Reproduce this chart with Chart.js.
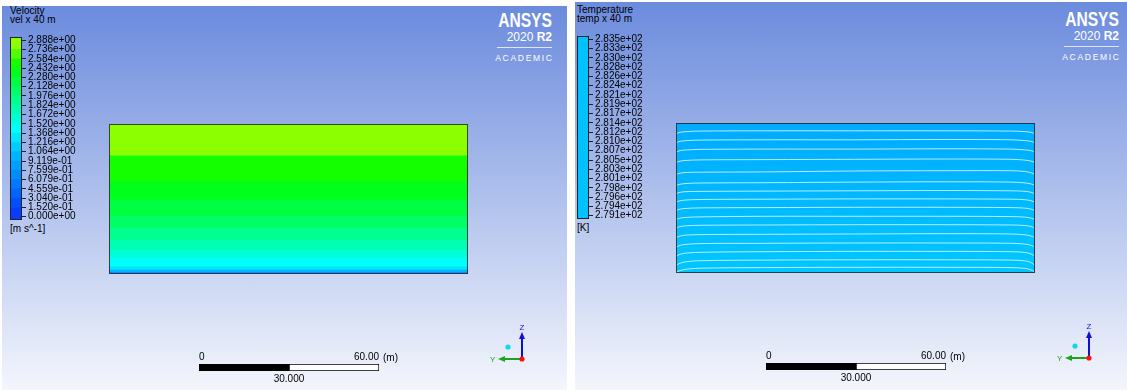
<!DOCTYPE html>
<html>
<head>
<meta charset="utf-8">
<title>Velocity / Temperature</title>
<script src="https://cdn.jsdelivr.net/npm/chart.js@4.4.1/dist/chart.umd.min.js"></script>
<style>
  body { margin: 0; width: 1127px; height: 390px; background: #fff; position: relative; overflow: hidden;
         font-family: "Liberation Sans", Arial, sans-serif; }
  .panel { position: absolute; background: linear-gradient(#6b8bdd, #f4f6fc); }
  .txt { position: absolute; font-size: 10px; line-height: 10px; color: #000; white-space: nowrap; }
  .logo { position: absolute; width: 100px; text-align: right; color: #fff; white-space: nowrap; }
  .logo .big { display: inline-block; font-weight: bold; font-size: 20px; line-height: 20px;
               transform: scaleX(0.78); transform-origin: right center; }
  .logo .ver { font-size: 12px; line-height: 12px; }
  .logo .acad { font-size: 8.5px; line-height: 8px; letter-spacing: 1.7px; margin-right: -1.7px; }
  .logo .rule { position: absolute; height: 1px; background: rgba(255,255,255,0.75); }
  canvas, svg { position: absolute; }
</style>
</head>
<body>
<script>
// contour levels of the legends, bottom to top
const velocityLevels = [0, 0.1520, 0.3040, 0.4559, 0.6079, 0.7599, 0.9119, 1.064, 1.216, 1.368,
                        1.520, 1.672, 1.824, 1.976, 2.128, 2.280, 2.432, 2.584, 2.736, 2.888];
const temperatureLevels = [279.1, 279.4, 279.6, 279.8, 280.1, 280.3, 280.5, 280.7, 281.0, 281.2,
                           281.4, 281.7, 281.9, 282.1, 282.4, 282.6, 282.8, 283.0, 283.3, 283.5];

// velocity plane: top of each band (m above the floor) and its velocity (m/s)
const velocityBandTop = [50, 39.4, 30.7, 24.7, 19.1, 15.3, 11.3, 8.0, 5.3, 2.4, 1.3, 0.5];
const velocityBandValue = [2.81, 2.51, 2.36, 2.20, 2.05, 1.90, 1.75, 1.60, 1.44, 1.29, 0.99, 0.53];

// temperature plane: isolines sampled at these stations along the section (m)
const stationX = [0, 1, 3, 8, 30, 60, 90, 112, 117, 119, 120];
const isolines = [
  [46.3, 46.8, 47.1, 47.3, 47.4, 47.4, 47.4, 47.3, 47.1, 46.8, 46.3],
  [43.3, 43.8, 44.1, 44.3, 44.4, 44.4, 44.5, 44.4, 44.1, 43.8, 43.3],
  [40.2, 40.7, 41.0, 41.2, 41.3, 41.3, 41.4, 41.3, 41.0, 40.7, 40.2],
  [36.8, 37.2, 37.5, 37.7, 37.8, 37.9, 38.0, 37.9, 37.6, 37.2, 36.8],
  [32.8, 33.2, 33.5, 33.6, 33.7, 34.0, 34.1, 34.1, 33.8, 33.3, 32.9],
  [29.1, 29.5, 29.8, 30.0, 30.1, 30.3, 30.4, 30.3, 30.0, 29.6, 29.2],
  [26.4, 26.8, 27.1, 27.2, 27.3, 27.4, 27.5, 27.4, 27.2, 26.8, 26.4],
  [23.6, 24.0, 24.3, 24.5, 24.6, 24.7, 24.7, 24.6, 24.4, 24.0, 23.6],
  [20.8, 21.2, 21.5, 21.7, 21.8, 21.9, 21.9, 21.8, 21.6, 21.2, 20.8],
  [17.8, 18.2, 18.5, 18.7, 18.9, 18.9, 18.9, 18.8, 18.6, 18.2, 17.8],
  [14.9, 15.4, 15.7, 15.9, 16.0, 16.1, 16.1, 16.0, 15.8, 15.4, 14.9],
  [11.7, 12.2, 12.6, 12.8, 12.9, 13.0, 13.1, 13.0, 12.7, 12.2, 11.7],
  [8.5, 9.1, 9.5, 9.8, 9.9, 10.0, 10.0, 9.9, 9.6, 9.1, 8.5],
  [5.5, 6.1, 6.6, 6.9, 7.1, 7.2, 7.2, 7.1, 6.8, 6.2, 5.5],
  [2.4, 3.1, 3.7, 4.1, 4.3, 4.4, 4.4, 4.3, 4.0, 3.3, 2.4],
  [0.3, 0.7, 1.2, 1.6, 1.8, 1.9, 1.9, 1.8, 1.5, 0.9, 0.3]
];

// ruler below each view (m)
const rulerLength = 60;
const rulerMid = 30;

// section size (m)
const sectionWidth = 120;
const sectionHeight = 50;

// colour table, bottom band first
const rainbow = ['#0a3cff', '#0050ff', '#0064ff', '#0078ff', '#008cff', '#00a0ff', '#00b4ff',
                 '#00ccff', '#00e6ff', '#00fffa', '#00ffd9', '#00ffb3', '#00ff8c', '#00ff66',
                 '#00ff40', '#00ff1a', '#14ff00', '#50ff00', '#8cff00'];
const tempColour = '#00c2ff';

const FONT = { family: 'Liberation Sans', size: 10 };
// legend bar runs a little past the first and last level
const BAR_EXT = 0.35;

function sci(v) {
    // 2.888e+0 -> 2.888e+00
    return v.toExponential(3).replace(/e([+-])(\d)$/, 'e$10$2');
}

function colourFor(v) {
    const max = velocityLevels[velocityLevels.length - 1];
    const i = Math.min(rainbow.length - 1, Math.floor(v / max * rainbow.length));
    return rainbow[i];
}

function el(tag, cls, css, html) {
    const e = document.createElement(tag);
    if (cls) e.className = cls;
    Object.assign(e.style, css);
    if (html !== undefined) e.innerHTML = html;
    document.body.appendChild(e);
    return e;
}

function canvasAt(left, top, w, h) {
    const c = el('canvas', null, { left: left + 'px', top: top + 'px' });
    c.width = w;
    c.height = h;
    return c;
}

const frame = color => ({
    id: 'frame',
    afterDatasetsDraw(chart) {
        const { ctx, chartArea: a } = chart;
        ctx.save();
        ctx.strokeStyle = color;
        ctx.lineWidth = 1;
        ctx.strokeRect(a.left + 0.5, a.top + 0.5, a.width - 1, a.height - 1);
        ctx.restore();
    }
});

const noChrome = { legend: { display: false }, tooltip: { enabled: false } };

function drawColorbar(canvas, levels, colours) {
    const n = levels.length - 1;
    const datasets = colours.map((c, i) => ({
        data: [[i === 0 ? -BAR_EXT : i, i === n - 1 ? n + BAR_EXT : i + 1]],
        backgroundColor: c, barPercentage: 1, categoryPercentage: 1, grouped: false
    }));
    new Chart(canvas, {
        type: 'bar',
        data: { labels: [''], datasets },
        options: {
            responsive: false, animation: false,
            layout: { padding: { top: 8, bottom: 8, left: 0, right: 0 } },
            plugins: noChrome,
            scales: {
                x: { display: false },
                y: {
                    position: 'right', min: -BAR_EXT, max: n + BAR_EXT,
                    afterFit: s => { s.width = 62; },
                    afterBuildTicks: s => { s.ticks = levels.map((_, i) => ({ value: i })); },
                    ticks: { autoSkip: false, padding: 2, color: '#000', font: FONT,
                             callback: v => sci(levels[v]) },
                    grid: { drawOnChartArea: false, tickLength: 4, color: '#222' },
                    border: { display: false }
                }
            }
        },
        plugins: [frame('#222')]
    });
}

function drawVelocityField(canvas) {
    // stack from the floor up
    const datasets = [];
    for (let i = velocityBandTop.length - 1; i >= 0; i--) {
        const below = i + 1 < velocityBandTop.length ? velocityBandTop[i + 1] : 0;
        datasets.push({
            data: [velocityBandTop[i] - below],
            backgroundColor: colourFor(velocityBandValue[i]),
            barPercentage: 1, categoryPercentage: 1
        });
    }
    new Chart(canvas, {
        type: 'bar',
        data: { labels: [''], datasets },
        options: {
            responsive: false, animation: false, layout: { padding: 0 },
            plugins: noChrome,
            scales: {
                x: { display: false, stacked: true },
                y: { display: false, stacked: true, min: 0, max: sectionHeight }
            }
        },
        plugins: [frame('rgba(40,40,40,0.85)')]
    });
}

const tempFill = {
    id: 'tempFill',
    beforeDatasetsDraw(chart) {
        const { ctx, chartArea: a } = chart;
        const g = ctx.createLinearGradient(0, a.top, 0, a.bottom);
        g.addColorStop(0, '#00abff');
        g.addColorStop(1, '#00c6ff');
        ctx.save();
        ctx.fillStyle = g;
        ctx.fillRect(a.left, a.top, a.width, a.height);
        ctx.restore();
    }
};

function drawTemperatureField(canvas) {
    const datasets = isolines.map(line => ({
        data: stationX.map((x, i) => ({ x, y: line[i] })),
        showLine: true, borderColor: 'rgba(215,244,255,0.85)', borderWidth: 1,
        pointRadius: 0, tension: 0.35
    }));
    new Chart(canvas, {
        type: 'scatter',
        data: { datasets },
        options: {
            responsive: false, animation: false, layout: { padding: 0 },
            plugins: noChrome,
            scales: {
                x: { type: 'linear', display: false, min: 0, max: sectionWidth },
                y: { display: false, min: 0, max: sectionHeight }
            }
        },
        plugins: [tempFill, frame('rgba(40,40,40,0.85)')]
    });
}

function drawRuler(canvas) {
    new Chart(canvas, {
        type: 'bar',
        data: {
            labels: [''],
            datasets: [
                { data: [rulerMid], backgroundColor: '#000', barPercentage: 1, categoryPercentage: 1 },
                { data: [rulerLength - rulerMid], backgroundColor: '#fff', borderColor: '#000',
                  borderWidth: 1, borderSkipped: false, barPercentage: 1, categoryPercentage: 1 }
            ]
        },
        options: {
            indexAxis: 'y', responsive: false, animation: false,
            layout: { padding: { left: 10, right: 10, top: 0, bottom: 0 } },
            plugins: noChrome,
            scales: {
                x: {
                    type: 'linear', position: 'top', stacked: true, min: 0, max: rulerLength,
                    afterFit: s => { s.height = 12; },
                    afterBuildTicks: s => { s.ticks = [{ value: 0 }, { value: rulerLength }]; },
                    ticks: { align: 'inner', padding: 1, color: '#000', font: FONT, maxRotation: 0,
                             callback: v => v === 0 ? '0' : v.toFixed(2) },
                    grid: { display: false, drawTicks: false }, border: { display: false }
                },
                x2: {
                    type: 'linear', position: 'bottom', min: 0, max: rulerLength,
                    afterFit: s => { s.height = 14; },
                    afterBuildTicks: s => { s.ticks = [{ value: rulerMid }]; },
                    ticks: { padding: 2, color: '#000', font: FONT, maxRotation: 0,
                             callback: v => v.toFixed(3) },
                    grid: { display: false, drawTicks: false }, border: { display: false }
                },
                y: { display: false, stacked: true }
            }
        }
    });
}

function triad(ox, oy) {
    const svg = document.createElementNS('http://www.w3.org/2000/svg', 'svg');
    svg.setAttribute('width', 50);
    svg.setAttribute('height', 50);
    svg.style.left = (ox - 34) + 'px';
    svg.style.top = (oy - 40) + 'px';
    svg.innerHTML = `
      <line x1="34" y1="40" x2="15" y2="40" stroke="#1aa51a" stroke-width="2"/>
      <polygon points="10,40 17,37 17,43" fill="#1aa51a"/>
      <text x="2" y="43" font-size="8" fill="#1aa51a" font-family="Liberation Sans">Y</text>
      <line x1="34" y1="40" x2="34" y2="18" stroke="#1010d0" stroke-width="2"/>
      <polygon points="34,13 31,20 37,20" fill="#1010d0"/>
      <text x="31.5" y="11" font-size="8" fill="#1010d0" font-family="Liberation Sans">Z</text>
      <circle cx="20" cy="28" r="2.6" fill="#10d8e8"/>
      <circle cx="34" cy="40" r="2.6" fill="#ff1010"/>`;
    document.body.appendChild(svg);
}

function buildPanel(p) {
    const dx = p.dx, dy = p.dy;
    el('div', 'panel', { left: p.left + 'px', top: p.top + 'px', width: p.width + 'px', height: p.height + 'px' });

    // legend header
    el('div', 'txt', { left: (10 + dx) + 'px', top: (6 + dy) + 'px' }, p.title);
    el('div', 'txt', { left: (10 + dx) + 'px', top: (15 + dy) + 'px' }, p.subtitle);
    el('div', 'txt', { left: (10 + dx) + 'px', top: (224 + dy) + 'px' }, p.unit);

    // colour legend: bar 37..220
    drawColorbar(canvasAt(10 + dx, 29 + dy, 74, 199), p.levels, p.colours);

    // the section
    const field = canvasAt(109 + dx, 124 + dy, 359, 150);
    p.draw(field);

    // logo
    const logo = el('div', 'logo', { left: (452 + dx) + 'px', top: (10 + dy) + 'px', height: '52px' });
    logo.innerHTML = `<div class="big">ANSYS</div>
      <div class="ver">2020 <b>R2</b></div>
      <div class="rule" style="left:45px;width:55px;top:37px"></div>
      <div class="acad" style="margin-top:11px">ACADEMIC</div>`;

    // ruler
    drawRuler(canvasAt(189 + dx, 352 + dy, 200, 33));
    el('div', 'txt', { left: (383 + dx) + 'px', top: (353 + dy) + 'px' }, '(m)');

    triad(522 + dx, 359 + dy);
}

buildPanel({
    dx: 0, dy: 0, left: 2, top: 6, width: 565, height: 384,
    title: 'Velocity', subtitle: 'vel x 40 m', unit: '[m s^-1]',
    levels: velocityLevels, colours: rainbow, draw: drawVelocityField
});

buildPanel({
    dx: 567, dy: -1, left: 575, top: 2, width: 552, height: 388,
    title: 'Temperature', subtitle: 'temp x 40 m', unit: '[K]',
    levels: temperatureLevels, colours: temperatureLevels.slice(1).map(() => tempColour),
    draw: drawTemperatureField
});
</script>
</body>
</html>
